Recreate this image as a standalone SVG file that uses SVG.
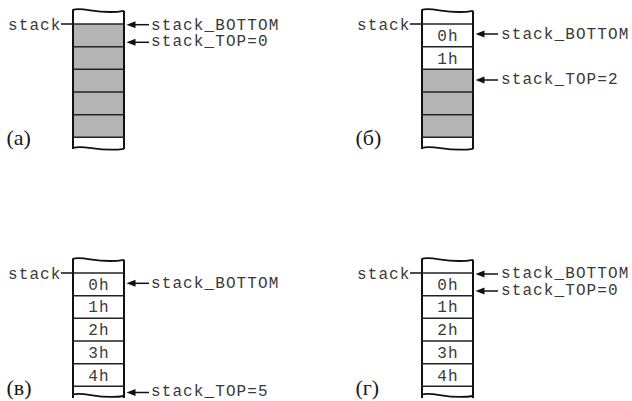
<svg xmlns="http://www.w3.org/2000/svg" width="632" height="401" viewBox="0 0 632 401">
  <style>
    .mono { font-family: "Liberation Mono", "DejaVu Sans Mono", monospace; font-size: 16px; letter-spacing: 1.1px; fill: #3a3a3a; }
    .cell { text-anchor: middle; }
    .tag { font-family: "Liberation Serif", "Times New Roman", serif; font-size: 22px; fill: #1a1a1a; }
    .side { fill: none; stroke: #111; stroke-width: 2; }
    .row { stroke: #222; stroke-width: 1.6; }
    .wave { fill: none; stroke: #111; stroke-width: 1.8; }
    .used { fill: #b4b4b4; }
    .arrow { stroke: #111; stroke-width: 1.5; marker-end: url(#head); }
    .tick { stroke: #111; stroke-width: 1.5; }
  </style>
  <defs>
    <marker id="head" markerWidth="10" markerHeight="8" refX="6" refY="3.5" orient="auto" markerUnits="userSpaceOnUse">
      <path d="M0,0 L9,3.5 L0,7 z" fill="#111"/>
    </marker>
    <!-- stack frame: torn top and sides, shared by all four states -->
    <g id="frame">
      <path class="wave" d="M72.7,9.8 C84,6.3 99,15.5 124,10.8"/>
      <path class="side" d="M73,9.6 V149"/>
      <path class="side" d="M124,10.8 V149"/>
      <line class="row" x1="73" y1="24" x2="124" y2="24"/>
      <line class="row" x1="73" y1="46.7" x2="124" y2="46.7"/>
      <line class="row" x1="73" y1="69.3" x2="124" y2="69.3"/>
      <line class="row" x1="73" y1="92" x2="124" y2="92"/>
      <line class="row" x1="73" y1="114.7" x2="124" y2="114.7"/>
      <line class="row" x1="73" y1="137.3" x2="124" y2="137.3"/>
      <line class="tick" x1="61" y1="24" x2="73" y2="24"/>
      <text class="mono" x="8" y="29.5">stack</text>
    </g>
  </defs>

  <!-- (а) empty stack -->
  <g id="state-a">
    <rect class="used" x="73" y="24" width="51" height="113.3"/>
    <use href="#frame"/>
    <path class="wave" d="M73,148 C84,144.3 99,152.5 124,148.8"/>
    <text class="tag" x="6.5" y="145">(а)</text>
  </g>

  <!-- (б) two items pushed -->
  <g id="state-b" transform="translate(349,0)">
    <rect class="used" x="73" y="69.3" width="51" height="68"/>
    <use href="#frame"/>
    <path class="wave" d="M73,148 C84,144.3 99,152.5 124,148.8"/>
    <text class="mono cell" x="99" y="41.3">0h</text>
    <text class="mono cell" x="99" y="63.8">1h</text>
    <text class="tag" x="6.5" y="145">(б)</text>
  </g>

  <!-- (в) stack full -->
  <g id="state-c" transform="translate(0,249)">
    <use href="#frame"/>
    <path class="wave" d="M73,145.5 C84,142 99,151 124,147"/>
    <text class="mono cell" x="99" y="40.6">0h</text>
    <text class="mono cell" x="99" y="63.3">1h</text>
    <text class="mono cell" x="99" y="86">2h</text>
    <text class="mono cell" x="99" y="108.6">3h</text>
    <text class="mono cell" x="99" y="131.6">4h</text>
    <text class="tag" x="6.5" y="146">(в)</text>
  </g>

  <!-- (г) full stack, pointer reset -->
  <g id="state-d" transform="translate(349,249)">
    <use href="#frame"/>
    <path class="wave" d="M73,145.5 C84,142 99,151 124,147"/>
    <text class="mono cell" x="99" y="40.6">0h</text>
    <text class="mono cell" x="99" y="63.3">1h</text>
    <text class="mono cell" x="99" y="86">2h</text>
    <text class="mono cell" x="99" y="108.6">3h</text>
    <text class="mono cell" x="99" y="131.6">4h</text>
    <text class="tag" x="6.5" y="146">(г)</text>
  </g>

  <!-- pointer arrows -->
  <g id="connectors">
    <line class="arrow" x1="149" y1="24.7" x2="129.5" y2="24.7"/>
    <line class="arrow" x1="149" y1="42.3" x2="129.5" y2="42.3"/>
    <line class="arrow" x1="498" y1="34" x2="478.5" y2="34"/>
    <line class="arrow" x1="498" y1="80" x2="478.5" y2="80"/>
    <line class="arrow" x1="149" y1="283.3" x2="129.5" y2="283.3"/>
    <line class="arrow" x1="149" y1="392.5" x2="129.5" y2="392.5"/>
    <line class="arrow" x1="498" y1="274" x2="478.5" y2="274"/>
    <line class="arrow" x1="498" y1="291" x2="478.5" y2="291"/>
  </g>

  <!-- pointer labels -->
  <g id="labels">
    <text class="mono" x="151" y="29.5">stack_BOTTOM</text>
    <text class="mono" x="151" y="46">stack_TOP=0</text>
    <text class="mono" x="501" y="38.6">stack_BOTTOM</text>
    <text class="mono" x="501" y="84.3">stack_TOP=2</text>
    <text class="mono" x="151" y="287.8">stack_BOTTOM</text>
    <text class="mono" x="151" y="396">stack_TOP=5</text>
    <text class="mono" x="501" y="278.4">stack_BOTTOM</text>
    <text class="mono" x="501" y="295.2">stack_TOP=0</text>
  </g>
</svg>
